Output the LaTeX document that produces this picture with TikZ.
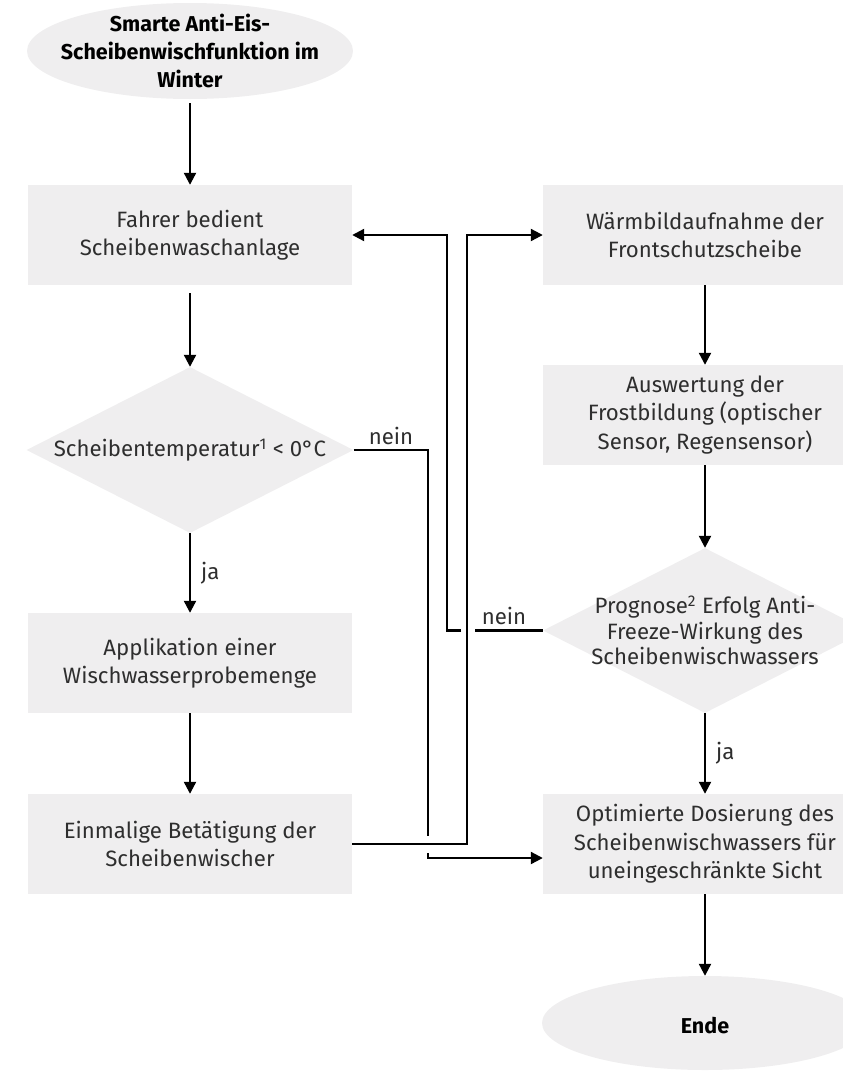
\documentclass[tikz,border=0pt]{standalone}
\usepackage{fontspec}
\setmainfont{Fira Sans}
\usetikzlibrary{shapes.geometric,arrows.meta}
\definecolor{boxfill}{HTML}{EFEEEF}
\definecolor{txtcol}{HTML}{2E2E2E}
\tikzset{
  boxnode/.style={rectangle,fill=boxfill,minimum width=324pt,minimum height=100pt,inner sep=0pt},
  dianode/.style={diamond,fill=boxfill,minimum width=327pt,minimum height=166pt,inner sep=0pt},
  ellnode/.style={ellipse,fill=boxfill,minimum width=326pt,minimum height=96pt,inner sep=0pt},
  txt/.style={align=center,text=txtcol,font=\fontsize{22.2}{28.5}\selectfont,inner sep=0pt},
  dtxt/.style={align=center,text=txtcol,font=\fontsize{22.2}{25.5}\selectfont,inner sep=0pt},
  btxt/.style={align=center,text=black,font=\bfseries\fontsize{21.5}{28}\selectfont,inner sep=0pt},
  lbl/.style={text=txtcol,font=\fontsize{22.2}{24}\selectfont,inner sep=0pt},
  conn/.style={line width=2.2pt,black},
  arr/.style={conn,-{Triangle[length=12pt,width=12pt]}}
}
\begin{document}
\begin{tikzpicture}[x=1pt,y=-1pt]
\useasboundingbox (0,0) rectangle (843,1071);
\clip (0,0) rectangle (843,1071);
% nodes
\node[ellnode] (start) at (190,51) {};
\node[btxt] at (start) {Smarte Anti-Eis-\\Scheibenwischfunktion im\\Winter};
\node[boxnode] (fahr) at (190,235) {};
\node[txt] at (fahr) {Fahrer bedient\\Scheibenwaschanlage};
\node[dianode] (d1) at (190,450) {};
\node[txt] at (d1) {Scheibentemperatur\textsuperscript{1} < 0°C};
\node[boxnode] (appl) at (190,663) {};
\node[txt] at (appl) {Applikation einer\\Wischwasserprobemenge};
\node[boxnode] (einm) at (190,844) {};
\node[txt] at (einm) {Einmalige Betätigung der\\Scheibenwischer};
\node[boxnode] (warm) at (705,235) {};
\node[txt] at (warm) {Wärmbildaufnahme der\\Frontschutzscheibe};
\node[boxnode] (ausw) at (705,415) {};
\node[txt] at (ausw) {Auswertung der\\Frostbildung (optischer\\Sensor, Regensensor)};
\node[dianode,minimum height=165pt,minimum width=324pt] (d2) at (705,630.5) {};
\node[dtxt] at (d2) {Prognose\textsuperscript{2} Erfolg Anti-\\Freeze-Wirkung des\\Scheibenwischwassers};
\node[boxnode] (opt) at (705,844) {};
\node[txt] at (opt) {Optimierte Dosierung des\\Scheibenwischwassers für\\uneingeschränkte Sicht};
\node[ellnode,minimum height=94pt] (ende) at (705,1023) {};
\node[btxt] at ([yshift=-3pt]ende.center) {Ende};
% helper coordinates
\coordinate (xa) at (428,0);
\coordinate (xb) at (467,0);
\coordinate (xc) at (447,0);
\coordinate (xg1) at (475,0);
\coordinate (xg2) at (461,0);
\coordinate (ya) at (0,836);
\coordinate (yb) at (0,853);
\coordinate (optin) at ([yshift=-14pt]opt.west);
% connectors
\draw[arr] ([yshift=-4pt]start.south) -- (fahr.north);
\draw[arr] ([yshift=-8pt]fahr.south) -- (d1.north);
\draw[arr] (d1.south) -- node[lbl,right=10pt,pos=0.5]{ja} (appl.north);
\draw[arr] (appl.south) -- (einm.north);
\draw[arr] (warm.south) -- (ausw.north);
\draw[arr] (ausw.south) -- (d2.north);
\draw[arr] (d2.south) -- node[lbl,right=10pt,pos=0.5]{ja} (opt.north);
\draw[arr] (opt.south) -- (ende.north);
% einmalige -> waermbild
\draw[arr] (einm.east) -- (einm.east -| xb) -- (warm.west -| xb) -- (warm.west);
% d1 nein -> optimierte
\draw[conn] (d1.east) -- (d1.east -| xa) -- (xa |- ya);
\draw[arr] (xa |- yb) |- (optin);
\node[lbl,anchor=south] at (391,445) {nein};
% d2 nein -> fahrer
\draw[conn] (d2.west) -- (d2.west -| xg1);
\draw[arr] (d2.west -| xg2) -- (d2.west -| xc) -- (fahr.east -| xc) -- (fahr.east);
\node[lbl,anchor=south] at (504,625) {nein};
\end{tikzpicture}
\end{document}
